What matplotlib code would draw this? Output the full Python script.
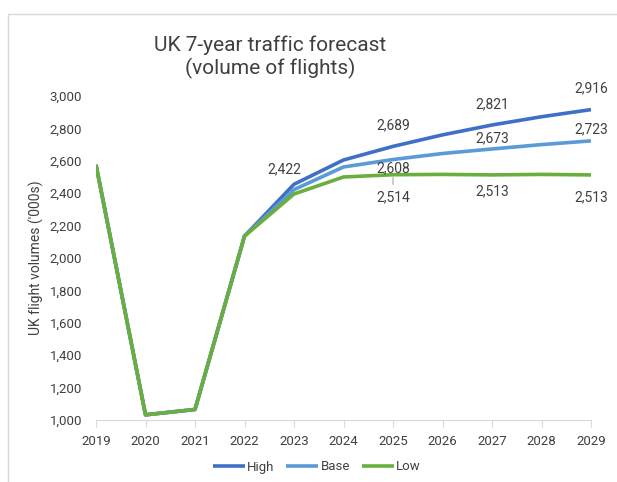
import matplotlib.pyplot as plt
from matplotlib.patches import Rectangle

plt.rcParams['font.family'] = ['Roboto', 'DejaVu Sans']

years = [2019, 2020, 2021, 2022, 2023, 2024, 2025, 2026, 2027, 2028, 2029]
high = [2575, 1032, 1065, 2135, 2455, 2605, 2689, 2760, 2821, 2872, 2916]
base = [2575, 1032, 1065, 2135, 2422, 2562, 2608, 2645, 2673, 2700, 2723]
low = [2575, 1032, 1065, 2135, 2395, 2500, 2514, 2516, 2513, 2516, 2513]

colors = {"High": "#3F6FC6", "Base": "#5B9BD5", "Low": "#6AAE3E"}
txt = "#404040"

fig = plt.figure(figsize=(6.17, 4.82), dpi=100)
fig.patches.append(Rectangle((8 / 617, -0.1), 1.0, 1 - 14 / 482 + 0.1, transform=fig.transFigure,
                             fill=False, edgecolor="#d9d9d9", linewidth=1.0))
ax = fig.add_axes([96 / 617, 1 - 420 / 482, 495 / 617, 324 / 482])

for name, vals in (("High", high), ("Base", base), ("Low", low)):
    ax.plot(years, vals, color=colors[name], linewidth=2.6, label=name, solid_capstyle="butt")

ax.set_xlim(2019, 2029)
ax.set_ylim(1000, 3000)
ax.set_xticks(years)
ax.set_yticks(range(1000, 3001, 200))
ax.set_yticklabels([f"{v:,}" for v in range(1000, 3001, 200)])
for s in ("top", "right", "left"):
    ax.spines[s].set_visible(False)
ax.spines["bottom"].set_color("#d9d9d9")
ax.tick_params(axis="x", colors=txt, labelsize=9.5, length=5, color="#d9d9d9", pad=6)
ax.tick_params(axis="y", colors=txt, labelsize=9.5, length=0, pad=10)
ax.set_ylabel("UK flight volumes ('000s)", color=txt, fontsize=10)
ax.yaxis.set_label_coords(-52 / 495, 0.5)

# data labels
for y, dh, db, dl in ((2025, 10, -1, -11), (2027, 10, 3, -7), (2029, 10, 3, -11)):
    i = years.index(y)
    ax.annotate(f"{high[i]:,}", (y, high[i]), xytext=(0, dh), textcoords="offset points",
                ha="center", va="bottom", color=txt, fontsize=10)
    ax.annotate(f"{base[i]:,}", (y, base[i]), xytext=(0, db), textcoords="offset points",
                ha="center", va="bottom" if db > 0 else "top", color=txt, fontsize=10)
    ax.annotate(f"{low[i]:,}", (y, low[i]), xytext=(0, dl), textcoords="offset points",
                ha="center", va="top", color=txt, fontsize=10)
i23 = years.index(2023)
ax.annotate(f"{base[i23]:,}", (2023, high[i23]), xytext=(-7, 6), textcoords="offset points",
            ha="center", va="bottom", color=txt, fontsize=10)
# small leader line under the 2025 low value
i25 = years.index(2025)
ax.annotate("", (2025, low[i25]), xytext=(0, -7), textcoords="offset points",
            arrowprops=dict(arrowstyle="-", color="#a6a6a6", lw=0.8, shrinkA=0, shrinkB=2))

fig.text(270 / 617, 1 - 57 / 482, "UK 7-year traffic forecast\n(volume of flights)", ha="center",
         va="center", fontsize=15, color=txt, linespacing=1.2)

fig.legend(loc="center", bbox_to_anchor=(317 / 617, 1 - 467 / 482), ncol=3, frameon=False,
           fontsize=9.5, handlelength=2.4, handletextpad=0.2, columnspacing=0.9, labelcolor=txt)

fig.savefig("out.png", dpi=100)
